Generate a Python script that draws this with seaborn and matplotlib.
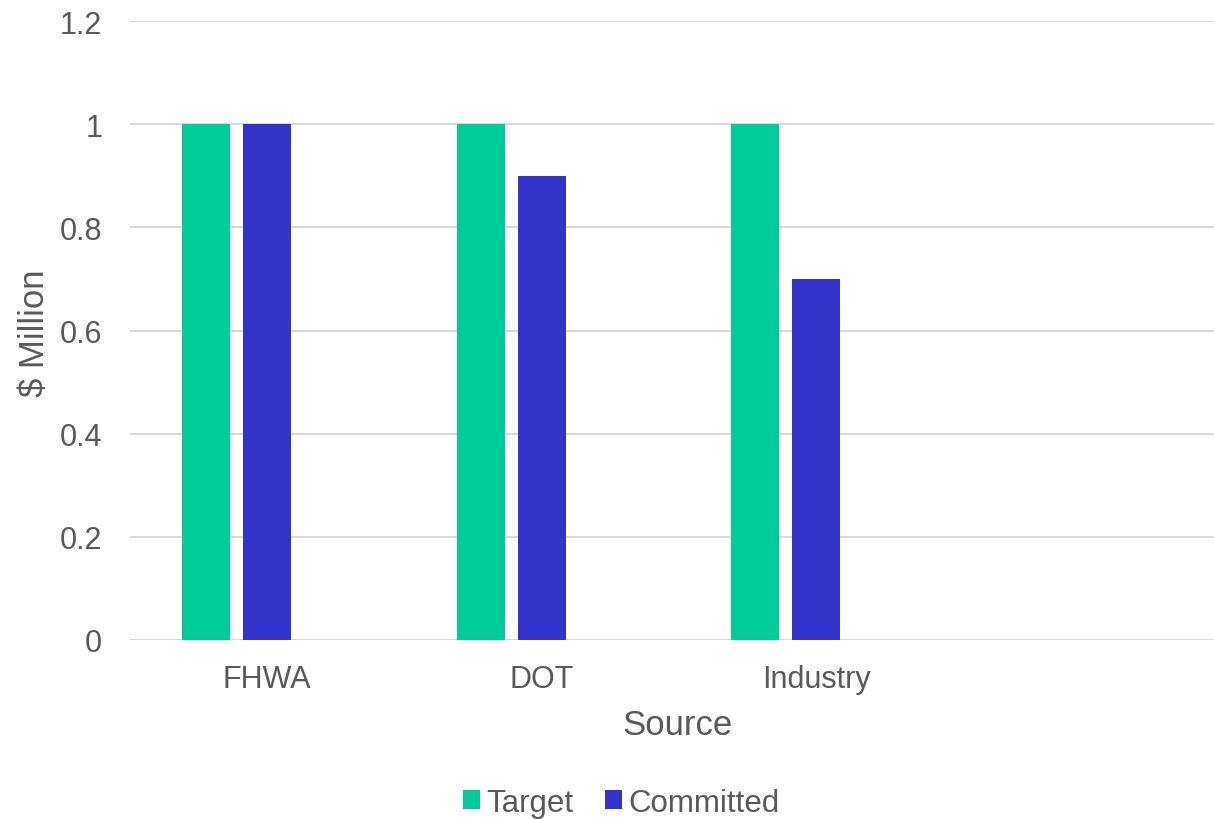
import matplotlib
matplotlib.use("Agg")
import matplotlib.pyplot as plt
from matplotlib.patches import Patch
import seaborn as sns
import pandas as pd

categories = ["FHWA", "DOT", "Industry"]
target = [1.0, 1.0, 1.0]
committed = [1.0, 0.9, 0.7]
series = ["Target", "Committed", "_blank"]
y_ticks = [0, 0.2, 0.4, 0.6, 0.8, 1.0, 1.2]
y_tick_labels = ["0", "0.2", "0.4", "0.6", "0.8", "1", "1.2"]

colors = {"Target": "#00CC99", "Committed": "#3333CC", "_blank": "#FFFFFF"}
text_color = "#595959"

df = pd.DataFrame({
    "Source": categories * 2,
    "Series": ["Target"] * len(categories) + ["Committed"] * len(categories),
    "Value": target + committed,
})

sns.set_theme(style="white")
plt.rcParams["font.family"] = ["Liberation Sans", "DejaVu Sans"]

fig = plt.figure(figsize=(12.14, 8.2), dpi=100)
ax = fig.add_axes([130 / 1214, (820 - 641) / 820, 1 - 130 / 1214, (641 - 22) / 820])

sns.barplot(data=df, x="Source", y="Value", hue="Series", hue_order=series,
            order=categories, palette=colors, width=0.667, gap=0.213,
            saturation=1, legend=False, ax=ax, zorder=3, errorbar=None,
            linewidth=0)

ax.set_xlim(-0.5, 3.45)
ax.set_ylim(0, 1.2)
ax.set_yticks(y_ticks)
ax.set_yticklabels(y_tick_labels)
ax.yaxis.grid(True, color="#D9D9D9", linewidth=1.5, zorder=0)
ax.xaxis.grid(False)
ax.set_axisbelow(True)
for s in ax.spines.values():
    s.set_visible(False)
ax.tick_params(axis="both", length=0, labelsize=22, colors=text_color)
ax.tick_params(axis="y", pad=20)
ax.tick_params(axis="x", pad=17)
ax.set_xlabel("")
ax.set_ylabel("")

fig.text(678 / 1214, (820 - 735.5) / 820, "Source", ha="center", va="baseline",
         fontsize=25, color=text_color)
fig.text(44 / 1214, (820 - 333) / 820, "$ Million", ha="center", va="baseline",
         rotation=90, rotation_mode="anchor", fontsize=25, color=text_color)

handles = [Patch(facecolor=colors[s], edgecolor="none", label=s) for s in series[:2]]
fig.legend(handles=handles, loc="center", bbox_to_anchor=(621 / 1214, 0.02),
           ncol=2, frameon=False, fontsize=22.5, handlelength=0.55,
           handleheight=0.55, handletextpad=0.2, columnspacing=1.0,
           labelcolor=text_color, borderaxespad=0, borderpad=0)

fig.savefig("out.png", dpi=100)
